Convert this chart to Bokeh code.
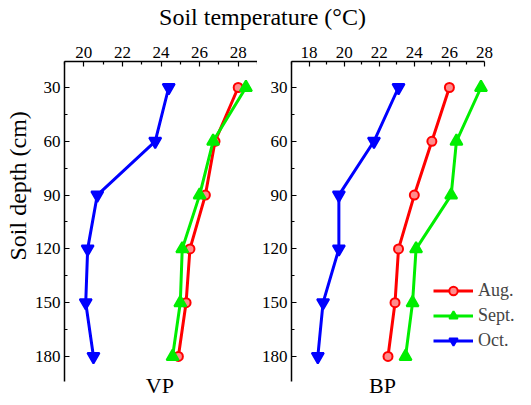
from bokeh.plotting import figure
from bokeh.models import Range1d, FixedTicker, Label, Div, Title
from bokeh.layouts import row, column
from bokeh.embed import file_html
from bokeh.resources import INLINE

depths = [30, 60, 90, 120, 150, 180]

vp_aug = [28.0, 26.8, 26.3, 25.5, 25.3, 24.9]
vp_sept = [28.4, 26.7, 26.0, 25.1, 25.0, 24.6]
vp_oct = [24.4, 23.7, 20.7, 20.2, 20.1, 20.5]

bp_aug = [26.0, 25.0, 24.0, 23.1, 22.9, 22.5]
bp_sept = [27.8, 26.4, 26.1, 24.1, 23.9, 23.5]
bp_oct = [23.1, 21.7, 19.7, 19.7, 18.8, 18.5]

vp_xticks = [20, 22, 24, 26, 28]
bp_xticks = [18, 20, 22, 24, 26, 28]
depth_ticks = [30, 60, 90, 120, 150, 180]

FONT = "Liberation Serif"
RED = "#ff0000"
GREEN = "#00ee00"
BLUE = "#0000ff"


def style_axes(p, xticks, xminor, xbounds):
	p.xaxis.ticker = FixedTicker(ticks=xticks, minor_ticks=xminor)
	p.yaxis.ticker = FixedTicker(ticks=depth_ticks, minor_ticks=[45, 75, 105, 135, 165])
	p.xaxis.bounds = xbounds
	p.yaxis.bounds = (15.5, 194)
	for ax in [p.xaxis[0], p.yaxis[0]]:
		ax.axis_line_width = 1.5
		ax.axis_line_color = "black"
		ax.major_tick_in = 5
		ax.major_tick_out = 0
		ax.minor_tick_in = 3
		ax.minor_tick_out = 0
		ax.major_tick_line_width = 1.2
		ax.minor_tick_line_width = 1.2
		ax.major_label_text_font = FONT
		ax.major_label_text_font_size = "17px"
		ax.major_label_text_color = "black"
		ax.major_label_standoff = 4
	p.xgrid.visible = False
	p.ygrid.visible = False
	p.outline_line_color = None


def add_series(p, xs, color, marker, size, label=None):
	kw = {}
	if label:
		kw["legend_label"] = label
	p.line(xs, depths, line_color=color, line_width=3, **kw)
	fill = "#ff8c8c" if marker == "circle" else color
	p.scatter(xs, depths, marker=marker, size=size, line_color=color,
	          fill_color=fill, line_width=2, **kw)


# left panel (VP)
p1 = figure(width=257, height=365, x_range=Range1d(19, 29), y_range=Range1d(204, 15.5),
            x_axis_location="above", toolbar_location=None, output_backend="svg",
            min_border_left=64, min_border_right=0, min_border_top=27, min_border_bottom=0)
style_axes(p1, vp_xticks, [19, 21, 23, 25, 27, 29], (19, 29))
add_series(p1, vp_aug, RED, "circle", 9)
add_series(p1, vp_sept, GREEN, "triangle", 12)
add_series(p1, vp_oct, BLUE, "inverted_triangle", 12)

p1.add_layout(Title(text="Soil depth  (cm)", align="left", offset=139, standoff=2,
                    text_font=FONT, text_font_size="24px", text_font_style="normal",
                    text_color="black"), "left")
p1.add_layout(Label(x=23.94, y=203.2, text="VP", text_align="center", text_baseline="bottom",
                    text_font=FONT, text_font_size="22px", text_color="black"))

# right panel (BP)
p2 = figure(width=258, height=365, x_range=Range1d(17, 29.767), y_range=Range1d(204, 15.5),
            x_axis_location="above", toolbar_location=None, output_backend="svg",
            min_border_left=34, min_border_right=0, min_border_top=27, min_border_bottom=0)
style_axes(p2, bp_xticks, [17, 19, 21, 23, 25, 27], (17, 28))
add_series(p2, bp_aug, RED, "circle", 9, "Aug.")
add_series(p2, bp_sept, GREEN, "triangle", 12, "Sept.")
add_series(p2, bp_oct, BLUE, "inverted_triangle", 12, "Oct.")

p2.add_layout(Label(x=22.19, y=203.2, text="BP", text_align="center", text_baseline="bottom",
                    text_font=FONT, text_font_size="22px", text_color="black"))

lg = p2.legend[0]
lg.location = (142, 48)
lg.padding = 0
lg.margin = 0
lg.spacing = 4
lg.glyph_width = 40
lg.glyph_height = 21
lg.label_height = 21
lg.label_standoff = 5
lg.label_text_font = FONT
lg.label_text_font_size = "18px"
lg.border_line_color = None
lg.background_fill_alpha = 0

title = Div(text="Soil temperature (°C)", width=515, height=24,
            styles={"font-family": FONT, "font-size": "24px", "text-align": "center",
                    "line-height": "24px", "color": "black"})

layout = column(title, row(p1, p2))
open("out.html", "w").write(file_html(layout, INLINE))
